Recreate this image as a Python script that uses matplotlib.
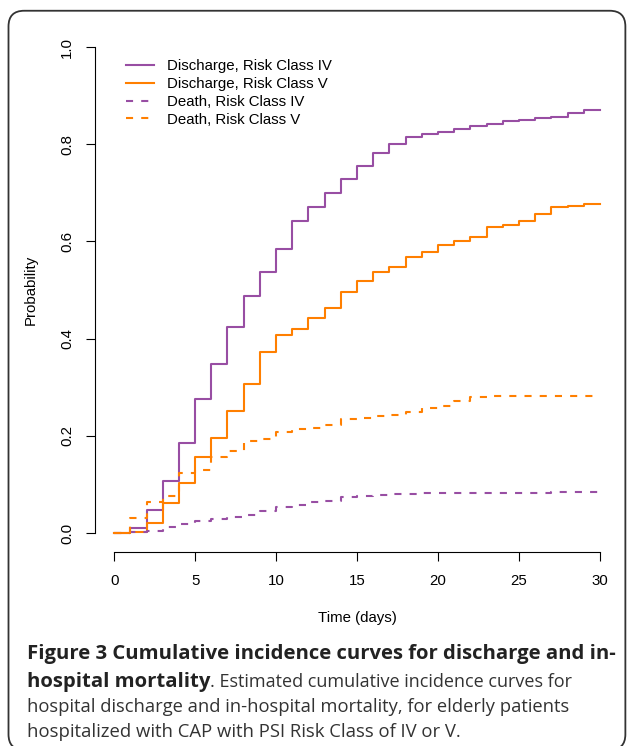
import numpy as np
import matplotlib.pyplot as plt
from matplotlib.patches import FancyBboxPatch

# cumulative incidence (value held from each day on)
days = np.arange(0, 31)
discharge_iv = [0, 0.011, 0.047, 0.106, 0.185, 0.275, 0.348, 0.423, 0.488, 0.538,
                0.585, 0.641, 0.671, 0.700, 0.728, 0.755, 0.782, 0.800, 0.814, 0.821,
                0.826, 0.831, 0.838, 0.841, 0.848, 0.850, 0.853, 0.857, 0.864, 0.870, 0.870]
discharge_v = [0, 0.003, 0.020, 0.062, 0.103, 0.157, 0.196, 0.252, 0.306, 0.372,
               0.408, 0.420, 0.443, 0.462, 0.495, 0.519, 0.538, 0.548, 0.568, 0.578,
               0.593, 0.601, 0.610, 0.629, 0.633, 0.641, 0.656, 0.671, 0.673, 0.678, 0.678]
death_iv = [0, 0.002, 0.005, 0.012, 0.018, 0.024, 0.029, 0.033, 0.037, 0.046,
            0.054, 0.058, 0.063, 0.066, 0.075, 0.076, 0.079, 0.080, 0.081, 0.082,
            0.083, 0.083, 0.083, 0.083, 0.083, 0.083, 0.083, 0.084, 0.084, 0.084, 0.084]
death_v = [0, 0.031, 0.064, 0.076, 0.123, 0.130, 0.157, 0.169, 0.190, 0.194,
           0.207, 0.213, 0.215, 0.222, 0.235, 0.236, 0.240, 0.243, 0.248, 0.257,
           0.262, 0.272, 0.279, 0.282, 0.282, 0.282, 0.282, 0.282, 0.282, 0.282, 0.282]

labels = ["Discharge, Risk Class IV", "Discharge, Risk Class V",
          "Death, Risk Class IV", "Death, Risk Class V"]
purple = "#984EA3"
orange = "#FF7F00"

plt.rcParams['font.family'] = ['Liberation Sans', 'DejaVu Sans']

W, H = 627, 746
fig = plt.figure(figsize=(W / 100, H / 100), dpi=100)
ax = fig.add_axes([94.7 / W, 1 - 552.4 / H, (619.4 - 94.7) / W, (552.4 - 27.6) / H])

dash = (3.4, 3.9)
ax.step(days, discharge_iv, where='post', color=purple, lw=1.5, label=labels[0])
ax.step(days, discharge_v, where='post', color=orange, lw=1.5, label=labels[1])
ax.step(days, death_iv, where='post', color=purple, lw=1.5, dashes=dash, label=labels[2])
ax.step(days, death_v, where='post', color=orange, lw=1.5, dashes=dash, label=labels[3])

fs = 10.8
ax.set_xlim(-1.2, 31.2)
ax.set_ylim(-0.04, 1.04)
ax.set_xticks([0, 5, 10, 15, 20, 25, 30])
ax.set_yticks([0.0, 0.2, 0.4, 0.6, 0.8, 1.0])
ax.set_yticklabels(["0.0", "0.2", "0.4", "0.6", "0.8", "1.0"], rotation=90, va='center')
for s in ['top', 'right']:
    ax.spines[s].set_visible(False)
ax.spines['left'].set_bounds(0, 1)
ax.spines['bottom'].set_bounds(0, 30)
for s in ['left', 'bottom']:
    ax.spines[s].set_linewidth(0.8)
ax.tick_params(direction='out', length=6.3, width=0.8, labelsize=fs)
ax.tick_params(axis='x', pad=9)
ax.tick_params(axis='y', pad=8.5)
ax.set_xlabel("Time (days)", fontsize=fs, labelpad=16.5)
ax.set_ylabel("Probability", fontsize=fs, labelpad=16)

ax.legend(loc='upper left', bbox_to_anchor=(126 / W, 1 - 59 / H), bbox_transform=fig.transFigure,
          frameon=False, fontsize=fs, handlelength=1.87, handletextpad=0.85,
          labelspacing=0.26, borderpad=0, borderaxespad=0)

# rounded border of the figure panel
box = FancyBboxPatch((8.5 / W, -4 / H), (626 - 8.5) / W - 0.001, (746 - 10 + 4) / H - 0.001,
                     boxstyle="round,pad=0,rounding_size=0.025", transform=fig.transFigure,
                     fill=False, edgecolor="#333333", lw=1.3, mutation_aspect=W / H)
fig.patches.append(box)

# caption
cap_font = ['Open Sans', 'DejaVu Sans']
cx = 27 / W
fig.text(cx, 1 - 654 / H, "Figure 3 Cumulative incidence curves for discharge and in-",
         fontsize=14.6, fontweight='bold', family=cap_font, va='center', color='#222222')
t2 = fig.text(cx, 1 - 682 / H, "hospital mortality", fontsize=14.6, fontweight='bold',
              family=cap_font, va='center', color='#222222')
fig.canvas.draw()
bb = t2.get_window_extent()
fig.text(bb.x1 / W, 1 - 682 / H, ". Estimated cumulative incidence curves for",
         fontsize=13, family=cap_font, va='center', color='#333333')
fig.text(cx, 1 - 707 / H, "hospital discharge and in-hospital mortality, for elderly patients",
         fontsize=13.2, family=cap_font, va='center', color='#333333')
fig.text(cx, 1 - 732 / H, "hospitalized with CAP with PSI Risk Class of IV or V.",
         fontsize=13.3, family=cap_font, va='center', color='#333333')

fig.savefig("out.png", dpi=100)
